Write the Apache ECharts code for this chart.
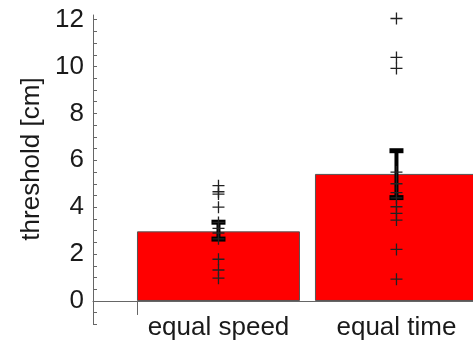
<!DOCTYPE html>
<html>
<head>
<meta charset="utf-8">
<script src="https://cdn.jsdelivr.net/npm/echarts@6/dist/echarts.min.js"></script>
<style>html,body{margin:0;padding:0;background:#fff}#c{width:473px;height:340px}</style>
</head>
<body>
<div id="c"></div>
<script>
const categories = ['equal speed', 'equal time'];
const means = [2.97, 5.42];
const errLow = [2.64, 4.41];
const errHigh = [3.36, 6.41];
const pointsSpeed = [4.92, 4.66, 4.56, 4.0, 3.35, 3.1, 2.9, 2.65, 1.78, 1.32, 0.97];
const pointsTime = [12.05, 10.39, 9.92, 5.5, 5.0, 4.62, 4.4, 4.02, 3.74, 3.45, 2.2, 0.93];
const yTickLabels = [0, 2, 4, 6, 8, 10, 12];
const yMinorTicks = [-1, -0.5, 0, 0.5, 1, 1.5, 2, 2.5, 3, 3.5, 4, 4.5, 5, 5.5, 6, 6.5, 7, 7.5, 8, 8.5, 9, 9.5, 10, 10.5, 11, 11.5, 12];
const yMin = -1, yMax = 12.2;

const catPos = categories.map((c, i) => i + 1);
const barData = means.map((v, i) => [catPos[i], v]);
const errData = means.map((v, i) => [catPos[i], errLow[i], errHigh[i]]);
const scatterData = [];
pointsSpeed.forEach(v => scatterData.push([catPos[0], v]));
pointsTime.forEach(v => scatterData.push([catPos[1], v]));

const gridTop = 15, gridBottom = 15.6, H = 340;
const plotH = H - gridTop - gridBottom;
const zeroOffset = -plotH * (0 - yMin) / (yMax - yMin);

const chart = echarts.init(document.getElementById('c'), null, {renderer: 'canvas'});
const font = 'Liberation Sans, Arial, sans-serif';
chart.setOption({
  animation: false,
  grid: {left: 93, right: 0, top: gridTop, bottom: gridBottom, containLabel: false, outerBoundsMode: 'none'},
  xAxis: {
    type: 'value', min: 0.295, max: 2.43,
    offset: zeroOffset,
    splitLine: {show: false},
    axisLine: {show: true, onZero: false, lineStyle: {color: '#666', width: 1}},
    axisTick: {show: true, customValues: [0.542], length: 14, lineStyle: {color: '#666', width: 1}},
    axisLabel: {
      customValues: catPos, margin: 14,
      formatter: v => categories[Math.round(v) - 1] || '',
      fontFamily: font, fontSize: 26, color: '#1a1a1a'
    }
  },
  yAxis: {
    type: 'value', min: yMin, max: yMax,
    splitLine: {show: false},
    axisLine: {show: true, onZero: false, lineStyle: {color: '#666', width: 1}},
    axisTick: {show: true, inside: true, customValues: yMinorTicks, length: 4, lineStyle: {color: '#666', width: 1}},
    axisLabel: {customValues: yTickLabels, margin: 9, fontFamily: font, fontSize: 26, color: '#1a1a1a'}
  },
  graphic: [{
    type: 'text', x: 32, y: 159, rotation: Math.PI / 2,
    style: {text: 'threshold [cm]', fontFamily: font, fontSize: 26, fill: '#1a1a1a', align: 'center', verticalAlign: 'middle'}
  }],
  series: [
    {
      type: 'bar', data: barData, barWidth: 163,
      itemStyle: {color: '#ff0000', borderColor: '#555', borderWidth: 1},
      z: 1
    },
    {
      type: 'custom', data: errData, z: 3,
      renderItem: (params, api) => {
        const x = api.value(0);
        const lo = api.coord([x, api.value(1)]);
        const hi = api.coord([x, api.value(2)]);
        const hw = 7;
        return {
          type: 'group',
          children: [
            {type: 'line', shape: {x1: lo[0], y1: lo[1], x2: hi[0], y2: hi[1]}, style: {stroke: '#000', lineWidth: 4}},
            {type: 'line', shape: {x1: hi[0] - hw, y1: hi[1], x2: hi[0] + hw, y2: hi[1]}, style: {stroke: '#000', lineWidth: 5}},
            {type: 'line', shape: {x1: lo[0] - hw, y1: lo[1], x2: lo[0] + hw, y2: lo[1]}, style: {stroke: '#000', lineWidth: 5}}
          ]
        };
      }
    },
    {
      type: 'scatter', data: scatterData, z: 4,
      symbol: 'path://M5,0L5,10M0,5L10,5', symbolSize: 12,
      itemStyle: {color: 'transparent', borderColor: '#222', borderWidth: 1.3, opacity: 1}
    }
  ]
});
</script>
</body>
</html>
